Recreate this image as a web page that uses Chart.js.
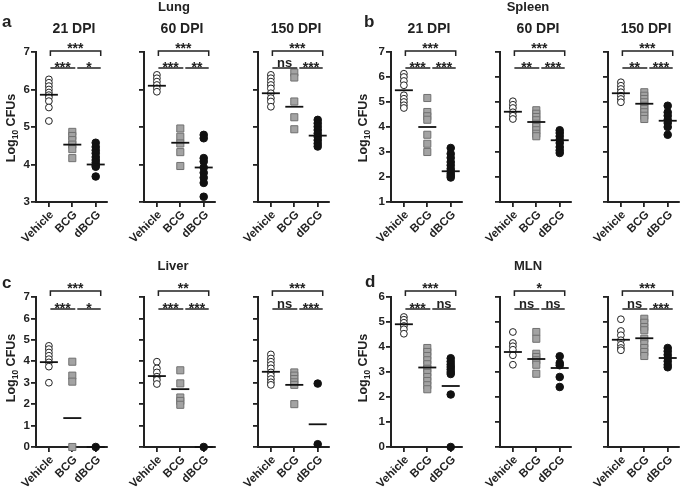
<!DOCTYPE html>
<html>
<head>
<meta charset="utf-8">
<script src="https://cdn.jsdelivr.net/npm/chart.js@4.4.1/dist/chart.umd.min.js"></script>
<style>
  body { margin: 0; background: #fff; }
  #fig { position: relative; width: 685px; height: 487px; overflow: hidden; font-family: 'Liberation Sans', Arial, sans-serif; color: #222; }
  #fig canvas { position: absolute; }
  .lbl { position: absolute; font-weight: bold; white-space: nowrap; }
  .ytitle { position: absolute; font-weight: bold; font-size: 12.5px; white-space: nowrap; transform: translate(-50%, -50%) rotate(-90deg); }
  .ytitle span { font-size: 8.5px; position: relative; top: 3px; }
</style>
</head>
<body>
<div id="fig"></div>
<script>
const FONT = "'Liberation Sans', Arial, sans-serif";
const categories = ['Vehicle', 'BCG', 'dBCG'];
const dpiLabels = ['21 DPI', '60 DPI', '150 DPI'];

// log10 CFU values per group: [Vehicle, BCG, dBCG]
const lung21 = [[6.27, 6.18, 6.09, 6.0, 5.92, 5.85, 5.79, 5.69, 5.52, 5.16], [4.87, 4.76, 4.65, 4.53, 4.41, 4.17], [4.58, 4.47, 4.38, 4.3, 4.2, 4.12, 4.05, 3.98, 3.94, 3.68]];
const lung21Mean = [5.86, 4.53, 4.0];
const lung21Sig = ['***', '***', '*'];
const lung60 = [[6.39, 6.30, 6.21, 6.12, 6.03, 5.94], [4.96, 4.74, 4.56, 4.33, 3.96], [4.79, 4.70, 4.17, 4.08, 3.92, 3.78, 3.65, 3.51, 3.14]];
const lung60Mean = [6.10, 4.58, 3.92];
const lung60Sig = ['***', '***', '**'];
const lung150 = [[6.39, 6.30, 6.21, 6.12, 6.03, 5.90, 5.77, 5.68, 5.54], [6.45, 6.32, 5.68, 5.26, 4.94], [5.19, 5.10, 5.01, 4.92, 4.83, 4.74, 4.65, 4.56, 4.48]];
const lung150Mean = [5.90, 5.54, 4.77];
const lung150Sig = ['***', 'ns', '***'];

const spleen21 = [[6.13, 6.0, 5.84, 5.67, 5.27, 5.13, 5.0, 4.87, 4.76], [5.16, 4.6, 4.43, 4.29, 3.69, 3.33, 3.0], [3.16, 2.93, 2.77, 2.6, 2.47, 2.33, 2.23, 2.13, 2.05, 1.98]];
const spleen21Mean = [5.47, 4.0, 2.23];
const spleen21Sig = ['***', '***', '***'];
const spleen60 = [[5.03, 4.89, 4.76, 4.59, 4.45, 4.32], [4.67, 4.53, 4.4, 4.27, 4.13, 4.0, 3.87, 3.73, 3.63], [3.87, 3.76, 3.63, 3.49, 3.36, 3.2, 3.07, 2.96]];
const spleen60Mean = [4.61, 4.2, 3.47];
const spleen60Sig = ['***', '**', '***'];
const spleen150 = [[5.79, 5.65, 5.52, 5.39, 5.25, 5.12, 4.99], [5.39, 5.25, 5.12, 4.99, 4.85, 4.72, 4.59, 4.45, 4.32], [4.85, 4.59, 4.45, 4.29, 4.16, 4.0, 3.69]];
const spleen150Mean = [5.35, 4.93, 4.25];
const spleen150Sig = ['***', '**', '***'];

const liver21 = [[4.72, 4.57, 4.41, 4.26, 4.10, 3.95, 3.75, 3.0], [3.98, 3.33, 3.05, 0], [0]];
const liver21Mean = [3.96, 1.35, 0];
const liver21Sig = ['***', '***', '*'];
const liver60 = [[3.98, 3.67, 3.48, 3.28, 3.13, 2.94], [3.58, 2.97, 2.31, 2.15, 1.97], [0]];
const liver60Mean = [3.31, 2.7, 0];
const liver60Sig = ['**', '***', '***'];
const liver150 = [[4.32, 4.13, 3.98, 3.83, 3.67, 3.48, 3.33, 3.17, 3.02, 2.9], [3.48, 3.33, 3.17, 3.02, 2.9, 2.0], [2.96, 0.13]];
const liver150Mean = [3.51, 2.9, 1.06];
const liver150Sig = ['***', 'ns', '***'];

const mln21 = [[5.2, 5.09, 4.97, 4.84, 4.71, 4.53], [3.96, 3.8, 3.64, 3.47, 3.31, 3.13, 2.97, 2.8, 2.64, 2.47, 2.31], [3.55, 3.42, 3.3, 3.2, 3.1, 3.0, 2.92, 2.1, 0]];
const mln21Mean = [4.91, 3.18, 2.44];
const mln21Sig = ['***', '***', 'ns'];
const mln60 = [[4.6, 4.16, 4.03, 3.89, 3.67, 3.29], [4.6, 4.33, 3.73, 3.6, 3.47, 3.29, 2.93], [3.63, 3.36, 3.27, 2.8, 2.4]];
const mln60Mean = [3.8, 3.52, 3.16];
const mln60Sig = ['*', 'ns', 'ns'];
const mln150 = [[5.11, 4.64, 4.47, 4.27, 4.09, 3.96, 3.87], [5.13, 4.97, 4.8, 4.67, 4.33, 4.13, 3.96, 3.8, 3.64], [3.96, 3.83, 3.69, 3.56, 3.43, 3.29, 3.19]];
const mln150Mean = [4.29, 4.35, 3.56];
const mln150Sig = ['***', 'ns', '***'];

// layout (px)
const PLOT_W = 76, PLOT_H = 150, Y_W = 32, PAD_TOP = 40, X_H = 52, PAD_R = 6;
const colLeft = [36, 144, 258];
const colRight = [391, 500, 608];
const fig = document.getElementById('fig');

const sigPlugin = {
    id: 'sigBrackets',
    afterDraw(chart, args, o) {
        const { ctx, chartArea, scales: { x } } = chart;
        const px = [0, 1, 2].map(i => x.getPixelForValue(i));
        const yTop = chartArea.top + o.top, yLow = chartArea.top + o.low;
        ctx.save();
        ctx.strokeStyle = '#222';
        ctx.fillStyle = '#222';
        ctx.lineWidth = 1.5;
        ctx.beginPath();
        ctx.moveTo(px[0] + 1.5, yTop + 5);
        ctx.lineTo(px[0] + 1.5, yTop);
        ctx.lineTo(px[2] + 5, yTop);
        ctx.lineTo(px[2] + 5, yTop + 5);
        ctx.moveTo(px[0] + 1.5, yLow);
        ctx.lineTo(px[1] + 3, yLow);
        ctx.moveTo(px[1] + 5, yLow);
        ctx.lineTo(px[2] + 5, yLow);
        ctx.stroke();
        ctx.textAlign = 'center';
        ctx.textBaseline = 'alphabetic';
        const put = (t, cx, y, starShift) => {
            if (t === 'ns') {
                ctx.font = 'bold 13px ' + FONT;
                ctx.fillText(t, cx, y - 1.5);
            } else {
                ctx.font = 'bold 14px ' + FONT;
                ctx.fillText(t, cx, y + starShift);
            }
        };
        put(o.labels[0], (px[0] + px[2]) / 2 + 3, yTop, 1.5);
        put(o.labels[1], (px[0] + px[1]) / 2 + 2, yLow, 3.7);
        put(o.labels[2], (px[1] + px[2]) / 2 + 5, yLow, 3.7);
        ctx.restore();
    }
};

function axisStyle() {
    return {
        grid: { drawOnChartArea: false, drawTicks: true, tickLength: 5, lineWidth: 1.8, color: '#222' },
        border: { display: true, width: 2, color: '#222' }
    };
}

function addPlot(axisX, plotTop, values, means, sig, yMin, yMax, showY, bracket) {
    const canvas = document.createElement('canvas');
    const w = Y_W + PLOT_W + PAD_R, h = PAD_TOP + PLOT_H + X_H;
    canvas.width = w;
    canvas.height = h;
    canvas.style.width = w + 'px';
    canvas.style.height = h + 'px';
    canvas.style.left = (axisX - Y_W) + 'px';
    canvas.style.top = (plotTop - PAD_TOP) + 'px';
    fig.appendChild(canvas);

    const tickFont = { family: FONT, size: 11.5, weight: 'bold' };
    new Chart(canvas.getContext('2d'), {
        type: 'scatter',
        data: {
            datasets: [{
                data: means.map((v, i) => ({ x: i, y: v })),
                pointStyle: 'line',
                pointRadius: 9,
                pointBorderWidth: 1.8,
                pointBorderColor: '#111',
                order: 0,
                clip: false
            }, {
                data: values[0].map(v => ({ x: 0, y: v })),
                pointStyle: 'circle',
                pointRadius: 3.4,
                pointBackgroundColor: '#fff',
                pointBorderColor: '#222',
                pointBorderWidth: 1,
                order: 1,
                clip: false
            }, {
                data: values[1].map(v => ({ x: 1, y: v })),
                pointStyle: 'rect',
                pointRadius: 5,
                pointBackgroundColor: '#a3a3a3',
                pointBorderColor: '#707070',
                pointBorderWidth: 1,
                order: 1,
                clip: false
            }, {
                data: values[2].map(v => ({ x: 2, y: v })),
                pointStyle: 'circle',
                pointRadius: 3.8,
                pointBackgroundColor: '#111',
                pointBorderColor: '#111',
                pointBorderWidth: 1,
                order: 1,
                clip: false
            }]
        },
        options: {
            responsive: false,
            animation: false,
            events: [],
            layout: { padding: { top: PAD_TOP, right: PAD_R, left: 0, bottom: 0 } },
            plugins: {
                legend: { display: false },
                tooltip: { enabled: false },
                sigBrackets: { labels: sig, top: bracket.top, low: bracket.low }
            },
            scales: {
                x: {
                    type: 'linear',
                    min: -0.55,
                    max: 2.49,
                    ...axisStyle(),
                    afterBuildTicks: s => { s.ticks = categories.map((c, i) => ({ value: i })); },
                    ticks: {
                        autoSkip: false,
                        minRotation: 45,
                        maxRotation: 45,
                        padding: 1,
                        labelOffset: 3,
                        color: '#222',
                        font: tickFont,
                        callback: v => categories[v]
                    },
                    afterFit: s => { s.height = X_H; s.paddingLeft = 0; s.paddingRight = 0; }
                },
                y: {
                    min: yMin,
                    max: yMax,
                    ...axisStyle(),
                    ticks: { display: showY, stepSize: 1, padding: 1, color: '#222', font: tickFont },
                    afterFit: s => { s.width = Y_W; s.paddingTop = 0; s.paddingBottom = 0; }
                }
            }
        },
        plugins: [sigPlugin]
    });
}

function addText(html, x, baseline, size, center) {
    const d = document.createElement('div');
    d.className = 'lbl';
    d.style.fontSize = size + 'px';
    d.style.lineHeight = size + 'px';
    d.style.top = (baseline - size * 0.8465) + 'px';
    d.style.left = x + 'px';
    if (center) d.style.transform = 'translateX(-50%)';
    d.innerHTML = html;
    fig.appendChild(d);
}

function addYTitle(cx, cy) {
    const d = document.createElement('div');
    d.className = 'ytitle';
    d.style.left = cx + 'px';
    d.style.top = cy + 'px';
    d.innerHTML = 'Log<span>10</span> CFUs';
    fig.appendChild(d);
}

// a: Lung
[lung21, lung60, lung150].forEach((vals, i) => {
    const means = [lung21Mean, lung60Mean, lung150Mean][i];
    const sig = [lung21Sig, lung60Sig, lung150Sig][i];
    addPlot(colLeft[i], 52, vals, means, sig, 3, 7, i === 0, { top: -1, low: 16 });
});
// b: Spleen
[spleen21, spleen60, spleen150].forEach((vals, i) => {
    const means = [spleen21Mean, spleen60Mean, spleen150Mean][i];
    const sig = [spleen21Sig, spleen60Sig, spleen150Sig][i];
    addPlot(colRight[i], 52, vals, means, sig, 1, 7, i === 0, { top: -1, low: 16 });
});
// c: Liver
[liver21, liver60, liver150].forEach((vals, i) => {
    const means = [liver21Mean, liver60Mean, liver150Mean][i];
    const sig = [liver21Sig, liver60Sig, liver150Sig][i];
    addPlot(colLeft[i], 297, vals, means, sig, 0, 7, i === 0, { top: -6, low: 12 });
});
// d: MLN
[mln21, mln60, mln150].forEach((vals, i) => {
    const means = [mln21Mean, mln60Mean, mln150Mean][i];
    const sig = [mln21Sig, mln60Sig, mln150Sig][i];
    addPlot(colRight[i], 297, vals, means, sig, 0, 6, i === 0, { top: -6, low: 12 });
});

// titles and panel letters
addText('Lung', 174, 11.5, 13, true);
addText('Spleen', 528, 11.5, 13, true);
addText('Liver', 173, 270, 13, true);
addText('MLN', 528, 270, 13, true);
addText('a', 2, 27, 17, false);
addText('b', 364, 27, 17, false);
addText('c', 2, 288, 17, false);
addText('d', 365, 287, 17, false);
colLeft.forEach((x, i) => addText(dpiLabels[i], x + 38, 33.3, 14, true));
colRight.forEach((x, i) => addText(dpiLabels[i], x + 38, 33.3, 14, true));
addYTitle(11, 128);
addYTitle(362.5, 128);
addYTitle(11, 368);
addYTitle(362.5, 368);
</script>
</body>
</html>
